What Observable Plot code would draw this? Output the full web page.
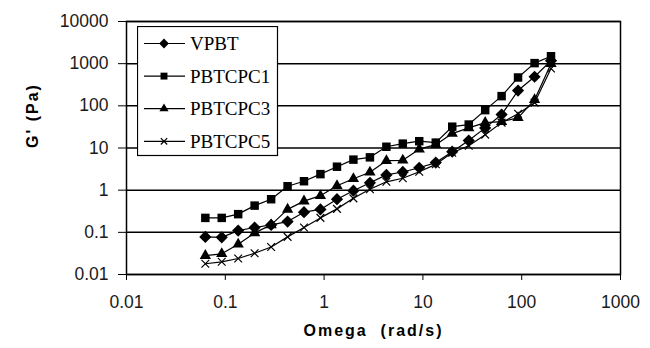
<!DOCTYPE html>
<html>
<head>
<meta charset="utf-8">
<script src="https://cdn.jsdelivr.net/npm/d3@7"></script>
<script src="https://cdn.jsdelivr.net/npm/@observablehq/plot@0.6"></script>
<style>
  html, body { margin: 0; padding: 0; background: #fff; }
  #wrap { position: relative; width: 650px; height: 348px; }
  #legend { position: absolute; left: 137px; top: 26px; }
</style>
</head>
<body>
<div id="wrap"></div>
<script>
// Angular frequency (rad/s)
const omega = [0.0628, 0.092, 0.135, 0.198, 0.291, 0.427, 0.626, 0.918, 1.35, 1.98, 2.91, 4.27, 6.26, 9.18, 13.5, 19.8, 29.1, 42.7, 62.6, 91.8, 135, 198];
// G' (Pa) per sample
const seriesNames = ["VPBT", "PBTCPC1", "PBTCPC3", "PBTCPC5"];
const vpbt    = [0.078, 0.076, 0.11, 0.13, 0.15, 0.18, 0.30, 0.35, 0.61, 0.97, 1.5, 2.3, 2.7, 3.4, 4.5, 8.2, 15, 30, 62, 230, 490, 1180];
const pbtcpc1 = [0.22, 0.22, 0.27, 0.43, 0.61, 1.24, 1.63, 2.4, 3.6, 5.3, 6.0, 10.7, 12.7, 14.5, 13.4, 32, 36, 79, 170, 470, 1030, 1500];
const pbtcpc3 = [0.028, 0.031, 0.052, 0.097, 0.15, 0.35, 0.55, 0.74, 1.27, 1.87, 2.66, 5.0, 5.1, 9.4, 12, 22, 30, 40, 42, 52, 140, 1000];
const pbtcpc5 = [0.018, 0.020, 0.024, 0.032, 0.045, 0.078, 0.13, 0.22, 0.36, 0.64, 1.05, 1.58, 1.92, 2.74, 4.1, 7.7, 11.3, 20.7, 40, 65, 119, 765];
const xTicks = [0.01, 0.1, 1, 10, 100, 1000];
const yTicks = [0.01, 0.1, 1, 10, 100, 1000, 10000];
const xTickLabels = ["0.01", "0.1", "1", "10", "100", "1000"];
const yTickLabels = ["0.01", "0.1", "1", "10", "100", "1000", "10000"];
const xTitle = "Omega  (rad/s)";
const yTitle = "G' (Pa)";

const symbols = {VPBT: "diamond2", PBTCPC1: "square2", PBTCPC3: "triangle2", PBTCPC5: "times"};
const radii = {VPBT: 5.5, PBTCPC1: 5.4, PBTCPC3: 5.4, PBTCPC5: 3.6};
const valuesBy = {VPBT: vpbt, PBTCPC1: pbtcpc1, PBTCPC3: pbtcpc3, PBTCPC5: pbtcpc5};

const data = seriesNames.flatMap(s => omega.map((w, i) => ({series: s, x: w, y: valuesBy[s][i]})));

const marks = [
  Plot.ruleY(yTicks, {stroke: "#000", strokeWidth: 1.5}),
  Plot.frame({stroke: "#000", strokeWidth: 1.5}),
  Plot.axisX({ticks: xTicks, tickFormat: d => xTickLabels[xTicks.indexOf(d)], tickSize: 6, tickPadding: 15, label: null, fontSize: 17.5, fill: "#1a1a1a"}),
  Plot.axisY({ticks: yTicks, tickFormat: d => yTickLabels[yTicks.indexOf(d)], tickSize: 8, tickPadding: 10, label: null, fontSize: 17.5, fill: "#1a1a1a"}),
  Plot.text([xTitle], {frameAnchor: "bottom", dy: 56, text: d => d, fontWeight: "bold", fontSize: 16, lineAnchor: "middle"}),
  Plot.text([yTitle], {frameAnchor: "left", dx: -94, rotate: -90, text: d => d, fontWeight: "bold", fontSize: 16, lineAnchor: "middle"})
];
for (const s of seriesNames) {
  const d = data.filter(p => p.series === s);
  marks.push(Plot.line(d, {x: "x", y: "y", stroke: "#000", strokeWidth: 1.2}));
}
for (const s of seriesNames) {
  const d = data.filter(p => p.series === s);
  const sym = symbols[s];
  marks.push(Plot.dot(d, sym === "times"
    ? {x: "x", y: "y", symbol: sym, r: radii[s], stroke: "#000", strokeWidth: 1.2, fill: "none"}
    : {x: "x", y: "y", symbol: sym, r: radii[s], fill: "#000", stroke: "none"}));
}

const chart = Plot.plot({
  width: 650,
  height: 348,
  marginLeft: 126,
  marginRight: 30,
  marginTop: 21,
  marginBottom: 74,
  style: {fontFamily: "'Liberation Sans', Arial, sans-serif", background: "#fff", color: "#000"},
  x: {type: "log", domain: [0.01, 1000]},
  y: {type: "log", domain: [0.01, 10000]},
  marks
});
const wrap = document.getElementById("wrap");
wrap.appendChild(chart);
d3.select(chart).selectAll("text").filter(function() { return this.textContent === xTitle || this.textContent === yTitle; })
  .style("letter-spacing", "2px").style("white-space", "pre");

// Legend (inside plot area, as in the reference)
const lw = 140, lh = 129;
const leg = d3.select(wrap).append("svg").attr("id", "legend").attr("width", lw + 2).attr("height", lh + 2);
leg.append("rect").attr("x", 0.5).attr("y", 0.5).attr("width", lw).attr("height", lh)
  .attr("fill", "#fff").attr("stroke", "#000").attr("stroke-width", 1.2);
const symMap = {diamond2: d3.symbolDiamond2, square2: d3.symbolSquare2, triangle2: d3.symbolTriangle2, times: d3.symbolTimes};
seriesNames.forEach((s, i) => {
  const cy = 17.5 + i * 32.6;
  const g = leg.append("g");
  g.append("line").attr("x1", 7).attr("x2", 48).attr("y1", cy).attr("y2", cy).attr("stroke", "#000").attr("stroke-width", 1.2);
  const r = s === "PBTCPC5" ? 3 : 4.4;
  const sym = symbols[s];
  g.append("path").attr("transform", `translate(27,${cy})`)
    .attr("d", d3.symbol(symMap[sym], r * r * Math.PI)())
    .attr("fill", sym === "times" ? "none" : "#000")
    .attr("stroke", sym === "times" ? "#000" : "none").attr("stroke-width", 1.2);
  g.append("text").attr("x", 53).attr("y", cy).attr("dy", "0.35em")
    .attr("font-family", "'Liberation Serif', 'Times New Roman', serif").attr("font-size", 19)
    .attr("fill", "#000").text(s);
});
</script>
</body>
</html>
